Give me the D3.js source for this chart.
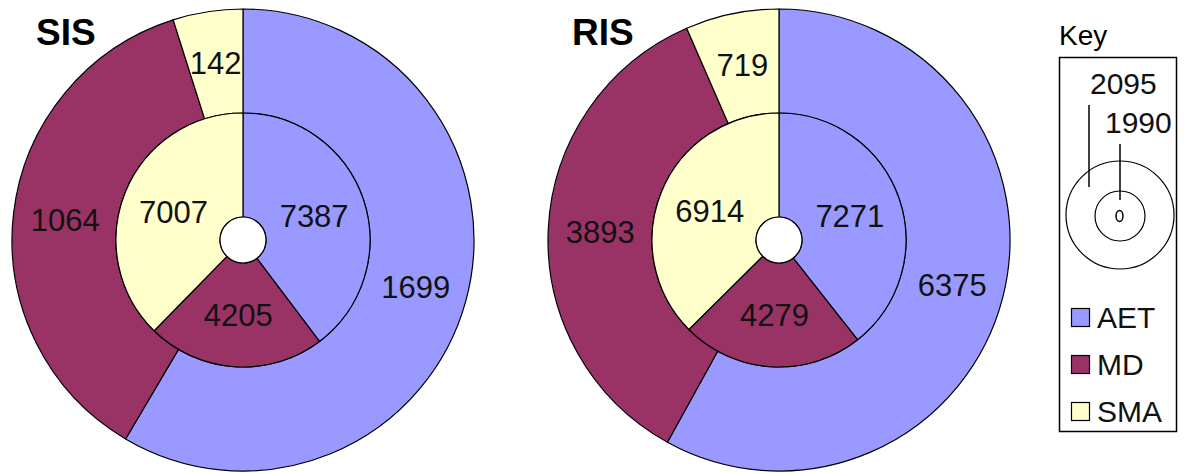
<!DOCTYPE html>
<html>
<head>
<meta charset="utf-8">
<script src="https://cdn.jsdelivr.net/npm/d3@7"></script>
<style>
  body { margin: 0; background: #fff; }
  svg { display: block; font-family: "Liberation Sans", Arial, sans-serif; }
</style>
</head>
<body>
<svg id="chart" width="1186" height="473"></svg>
<script>
const categories = ["AET", "MD", "SMA"];
const colors = ["#9999ff", "#993366", "#ffffcc"];
const charts = ["SIS", "RIS"];
const sis1990 = [7387, 4205, 7007];
const sis2095 = [1699, 1064, 142];
const ris1990 = [7271, 4279, 6914];
const ris2095 = [6375, 3893, 719];
const keyLabels = ["2095", "1990"];

const svg = d3.select("#chart");
const width = 1186;
const height = 473;

const color = d3.scaleOrdinal().domain(categories).range(colors);
const pie = d3.pie().sort(null).value((d) => d.value);

const rHole = 23;
const rInner = 127;
const rOuter = 231;

const innerArc = d3.arc().innerRadius(rHole).outerRadius(rInner);
const outerArc = d3.arc().innerRadius(rInner).outerRadius(rOuter);
const innerLabel = d3.arc().innerRadius(75).outerRadius(75);
const outerLabel = d3.arc().innerRadius(179).outerRadius(179);

const x = d3.scalePoint().domain(charts).range([243, 779]);

function toData(values) {
  return values.map((v, i) => ({ cat: categories[i], value: v }));
}

function drawPie(name, inner, outer) {
  const g = svg.append("g").attr("transform", `translate(${x(name)},240)`);

  g.selectAll(".outer")
    .data(pie(toData(outer)))
    .join("path")
    .attr("class", "outer")
    .attr("d", outerArc)
    .attr("fill", (d) => color(d.data.cat))
    .attr("stroke", "#000")
    .attr("stroke-width", 1.2);

  g.selectAll(".inner")
    .data(pie(toData(inner)))
    .join("path")
    .attr("class", "inner")
    .attr("d", innerArc)
    .attr("fill", (d) => color(d.data.cat))
    .attr("stroke", "#000")
    .attr("stroke-width", 1.2);

  g.append("circle")
    .attr("r", rHole)
    .attr("fill", "#fff")
    .attr("stroke", "#000")
    .attr("stroke-width", 1.2);

  g.selectAll(".olab")
    .data(pie(toData(outer)))
    .join("text")
    .attr("class", "olab")
    .attr("transform", (d) => `translate(${outerLabel.centroid(d)})`)
    .attr("text-anchor", "middle")
    .attr("dy", "0.36em")
    .attr("font-size", 31)
    .attr("fill", "#111")
    .text((d) => d.data.value);

  g.selectAll(".ilab")
    .data(pie(toData(inner)))
    .join("text")
    .attr("class", "ilab")
    .attr("transform", (d) => `translate(${innerLabel.centroid(d)})`)
    .attr("text-anchor", "middle")
    .attr("dy", "0.36em")
    .attr("font-size", 31)
    .attr("fill", "#111")
    .text((d) => d.data.value);

  svg.append("text")
    .attr("x", x(name) - 207)
    .attr("y", 45)
    .attr("font-size", 37)
    .attr("font-weight", "bold")
    .attr("fill", "#000")
    .text(name);
}

drawPie("SIS", sis1990, sis2095);
drawPie("RIS", ris1990, ris2095);

// key
const key = svg.append("g");
key.append("text")
  .attr("x", 1059)
  .attr("y", 45)
  .attr("font-size", 28)
  .text("Key");

key.append("rect")
  .attr("x", 1059.5)
  .attr("y", 57.5)
  .attr("width", 117)
  .attr("height", 374)
  .attr("fill", "none")
  .attr("stroke", "#000")
  .attr("stroke-width", 1.5);

const kx = 1120, ky = 215;
key.append("circle").attr("cx", kx).attr("cy", ky).attr("r", 54)
  .attr("fill", "none").attr("stroke", "#000").attr("stroke-width", 1.2);
key.append("circle").attr("cx", kx).attr("cy", ky + 1).attr("r", 25)
  .attr("fill", "none").attr("stroke", "#000").attr("stroke-width", 1.2);
key.append("ellipse").attr("cx", kx - 0.5).attr("cy", ky + 1).attr("rx", 3.5).attr("ry", 5.5)
  .attr("fill", "none").attr("stroke", "#000").attr("stroke-width", 1.5);
key.append("line").attr("x1", 1089).attr("x2", 1089).attr("y1", 105).attr("y2", 187)
  .attr("stroke", "#000").attr("stroke-width", 1.5);
key.append("line").attr("x1", kx).attr("x2", kx).attr("y1", 144).attr("y2", 200)
  .attr("stroke", "#000").attr("stroke-width", 1.5);

key.selectAll(".klab")
  .data(keyLabels)
  .join("text")
  .attr("class", "klab")
  .attr("x", (d, i) => (i === 0 ? 1090 : 1105))
  .attr("y", (d, i) => (i === 0 ? 94 : 133))
  .attr("font-size", 30)
  .attr("fill", "#111")
  .text((d) => d);

const legendY = d3.scalePoint().domain(categories).range([317, 411]);
const rows = key.selectAll(".row")
  .data(categories)
  .join("g")
  .attr("class", "row")
  .attr("transform", (d) => `translate(1071,${legendY(d)})`);

rows.append("rect")
  .attr("x", 0.5)
  .attr("y", -8.5)
  .attr("width", 18)
  .attr("height", 18)
  .attr("fill", (d) => color(d))
  .attr("stroke", "#000")
  .attr("stroke-width", 1.2);

rows.append("text")
  .attr("x", 26)
  .attr("y", 11)
  .attr("font-size", 30)
  .attr("fill", "#111")
  .text((d) => d);
</script>
</body>
</html>
